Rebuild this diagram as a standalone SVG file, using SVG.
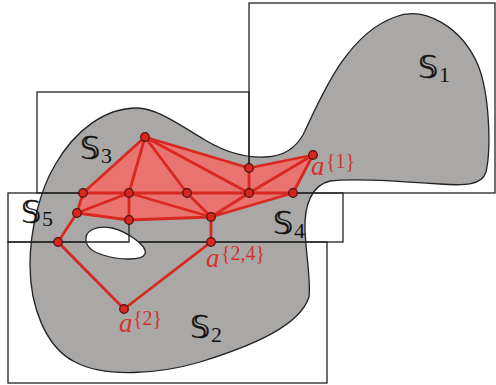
<svg xmlns="http://www.w3.org/2000/svg" width="496" height="385" viewBox="0 0 496 385">
<style>
.rect{fill:none;stroke:#222;stroke-width:1.3}
.bl{stroke:#222;stroke-width:1.3;fill:none}
.edge{stroke:#d82820;stroke-width:2.8;fill:none;stroke-linecap:round}
.node{fill:#d8261e;stroke:#4a1210;stroke-width:1.2}
.ss{font-family:"DejaVu Sans","DejaVu Serif",serif;font-size:32px;fill:#111;stroke:#111;stroke-width:0.4}
.sub{font-family:"Liberation Serif",serif;font-size:22px;fill:#111}
.la{font-family:"Liberation Serif",serif;font-style:italic;font-size:27px;fill:#d8302a}
.ls{font-family:"Liberation Serif",serif;font-size:20px;fill:#d8302a}
</style>
<rect width="496" height="385" fill="#fff"/>
<g id="region">
<path d="M137,108 C155,108 175,122 205,140 C225,152 245,158 265,157 C285,156 295,148 303,135 C320,100 345,35 395,17 C425,5 462,28 478,65 C490,95 491,150 486,172 C482,185 465,186 440,184 C400,181 350,178 330,181 C312,185 304,205 305,230 C306,255 311,280 309,297 C300,325 255,345 200,362 C160,374 105,378 75,362 C45,347 30,305 30,265 C30,230 40,190 55,165 C75,130 105,108 137,108 Z" fill="#a9a8a6" stroke="#222" stroke-width="1.3"/>
</g>
<g id="cover">
<rect id="S1" class="rect" x="249" y="3" width="246" height="190"/>
<rect id="S3" class="rect" x="37" y="92" width="212" height="101"/>
<rect id="S5" class="rect" x="8" y="193" width="335" height="49"/>
<rect id="S2" class="rect" x="8" y="242" width="319" height="141"/>
</g>
<path id="hole" d="M86,241 C84,230 98,225 112,228 C125,231 148,245 145,254 C142,261 118,260 103,255 C93,252 87,247 86,241 Z" fill="#fff" stroke="#222" stroke-width="1.3"/>
<g id="connectors">
<path class="bl" d="M87,242 H129 V220"/>
<polygon points="145,137 249,168 313,155 293,193 211,217 129,220 77,213 83,193" fill="#e8736f" stroke="none"/>
<path class="edge" d="M145,137 L83,193 M145,137 L129,193 M145,137 L187,193 M145,137 L249,193 M145,137 L249,168 M249,168 L313,155 M249,168 L249,193 M313,155 L249,193 M313,155 L293,193 M83,193 L293,193 M83,193 L77,213 M77,213 L129,193 M129,193 L129,220 M129,193 L211,217 M187,193 L211,217 M249,193 L211,217 M293,193 L211,217 M77,213 L129,220 L211,217 M77,213 L58,242 L124,309 L211,242 L211,217"/>
</g>
<g id="n_A"><circle class="node" cx="145" cy="137" r="4.3"/></g>
<g id="n_B"><circle class="node" cx="249" cy="168" r="4.3"/></g>
<g id="n_C"><circle class="node" cx="313" cy="155" r="4.3"/></g>
<g id="n_D"><circle class="node" cx="83" cy="193" r="4.3"/></g>
<g id="n_E"><circle class="node" cx="129" cy="193" r="4.3"/></g>
<g id="n_F"><circle class="node" cx="187" cy="193" r="4.3"/></g>
<g id="n_G"><circle class="node" cx="249" cy="193" r="4.3"/></g>
<g id="n_H"><circle class="node" cx="293" cy="193" r="4.3"/></g>
<g id="n_I"><circle class="node" cx="77" cy="213" r="4.3"/></g>
<g id="n_J"><circle class="node" cx="129" cy="220" r="4.3"/></g>
<g id="n_K"><circle class="node" cx="211" cy="217" r="4.3"/></g>
<g id="n_L"><circle class="node" cx="58" cy="242" r="4.3"/></g>
<g id="n_M"><circle class="node" cx="211" cy="242" r="4.3"/></g>
<g id="n_N"><circle class="node" cx="124" cy="309" r="4.3"/></g>
<g id="labels">
<text class="ss" x="418" y="78">𝕊</text><text class="sub" x="439" y="82">1</text>
<text class="ss" x="80" y="159">𝕊</text><text class="sub" x="101" y="163">3</text>
<text class="ss" x="21" y="223">𝕊</text><text class="sub" x="42" y="226">5</text>
<text class="ss" x="273" y="234">𝕊</text><text class="sub" x="294" y="238">4</text>
<text class="ss" x="190" y="338">𝕊</text><text class="sub" x="211" y="342">2</text>
<text class="la" x="311" y="175">a</text><text class="ls" x="326" y="168">{1}</text>
<text class="la" x="206" y="267">a</text><text class="ls" x="221" y="260">{2,4}</text>
<text class="la" x="119" y="332">a</text><text class="ls" x="133" y="325">{2}</text>
</g>
</svg>
